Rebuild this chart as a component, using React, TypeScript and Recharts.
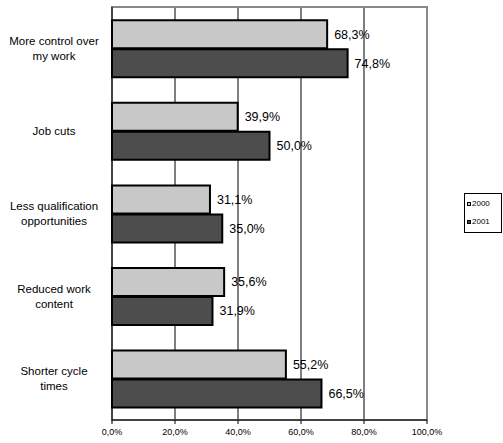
import React from 'react';
import {
  BarChart, Bar, XAxis, YAxis, CartesianGrid, Legend, LabelList, ReferenceArea,
} from 'recharts';

const categories = [
  'More control over my work',
  'Job cuts',
  'Less qualification opportunities',
  'Reduced work content',
  'Shorter cycle times',
];
// how each category label wraps on the left axis
const categoryLines: Record<string, string[]> = {
  'More control over my work': ['More control over', 'my work'],
  'Job cuts': ['Job cuts'],
  'Less qualification opportunities': ['Less qualification', 'opportunities'],
  'Reduced work content': ['Reduced work', 'content'],
  'Shorter cycle times': ['Shorter cycle', 'times'],
};
const values2000 = [68.3, 39.9, 31.1, 35.6, 55.2];
const values2001 = [74.8, 50.0, 35.0, 31.9, 66.5];
const xTicks = [0, 20, 40, 60, 80, 100];
const boundaryTicks = [0, 1, 2, 3, 4, 5];

const data = categories.map((name, i) => ({ name, y2000: values2000[i], y2001: values2001[i] }));

const FONT = '"Liberation Sans", Arial, sans-serif';
const fmt = (v: number) => `${Number(v).toFixed(1).replace('.', ',')}%`;

const CategoryTick = ({ x, y, payload }: any) => {
  const lines = categoryLines[payload.value] || [payload.value];
  const lh = 15;
  const start = y - ((lines.length - 1) * lh) / 2;
  return (
    <text x={x - 50} textAnchor="middle" fontFamily={FONT} fontSize={11.5} fill="#000">
      {lines.map((l, i) => (
        <tspan key={i} x={x - 50} y={start + i * lh} dy="0.35em">{l}</tspan>
      ))}
    </text>
  );
};

const LegendBox = ({ payload }: any) => (
  <div style={{ boxSizing: 'border-box', width: 38, height: 40, border: '1px solid #000', background: '#fff', padding: '1px 0 0 2px', fontFamily: FONT, fontSize: 8, color: '#000' }}>
    {payload.map((p: any) => (
      <div key={p.value} style={{ display: 'flex', alignItems: 'center', height: 18, lineHeight: '18px' }}>
        <span style={{ display: 'inline-block', width: 2, height: 2, background: p.color, border: '1.5px solid #000', marginRight: 1 }} />
        <span>{p.value}</span>
      </div>
    ))}
  </div>
);

export default function App() {
  return (
    <div style={{ position: 'absolute', left: 0, top: 0, background: '#fff' }}>
      <BarChart
        width={503}
        height={443}
        data={data}
        layout="vertical"
        margin={{ top: 7, right: 76, bottom: 0, left: 0 }}
        barCategoryGap="16%"
        barGap={1}
      >
        <CartesianGrid horizontal={false} vertical stroke="#000" strokeWidth={1} />
        <ReferenceArea x1={0} x2={100} fill="none" stroke="#888" strokeWidth={2} ifOverflow="visible" />
        <XAxis
          type="number"
          domain={[0, 100]}
          ticks={xTicks}
          tickFormatter={fmt}
          height={23}
          tickSize={4}
          tickMargin={5}
          axisLine={{ stroke: '#000' }}
          tickLine={{ stroke: '#000' }}
          tick={{ fontFamily: FONT, fontSize: 9, fill: '#000' }}
        />
        {/* invisible axis only used for the tick marks between categories */}
        <YAxis
          yAxisId="bound"
          type="number"
          domain={[0, 5]}
          ticks={boundaryTicks}
          reversed
          width={0}
          tick={false}
          tickSize={4}
          axisLine={false}
          tickLine={{ stroke: '#000' }}
        />
        <YAxis
          type="category"
          dataKey="name"
          width={112}
          tickLine={false}
          axisLine={{ stroke: '#000' }}
          tick={<CategoryTick />}
          interval={0}
        />
        <Legend
          layout="horizontal"
          align="center"
          verticalAlign="middle"
          wrapperStyle={{ left: 464, top: 193, width: 38 }}
          content={<LegendBox />}
        />
        <Bar dataKey="y2000" name="2000" fill="#c8c8c8" stroke="#000" strokeWidth={2} isAnimationActive={false}>
          <LabelList dataKey="y2000" position="right" offset={7} formatter={fmt} fontFamily={FONT} fontSize={12.5} fill="#000" />
        </Bar>
        <Bar dataKey="y2001" name="2001" fill="#4d4d4d" stroke="#000" strokeWidth={2} isAnimationActive={false}>
          <LabelList dataKey="y2001" position="right" offset={7} formatter={fmt} fontFamily={FONT} fontSize={12.5} fill="#000" />
        </Bar>
      </BarChart>
    </div>
  );
}
